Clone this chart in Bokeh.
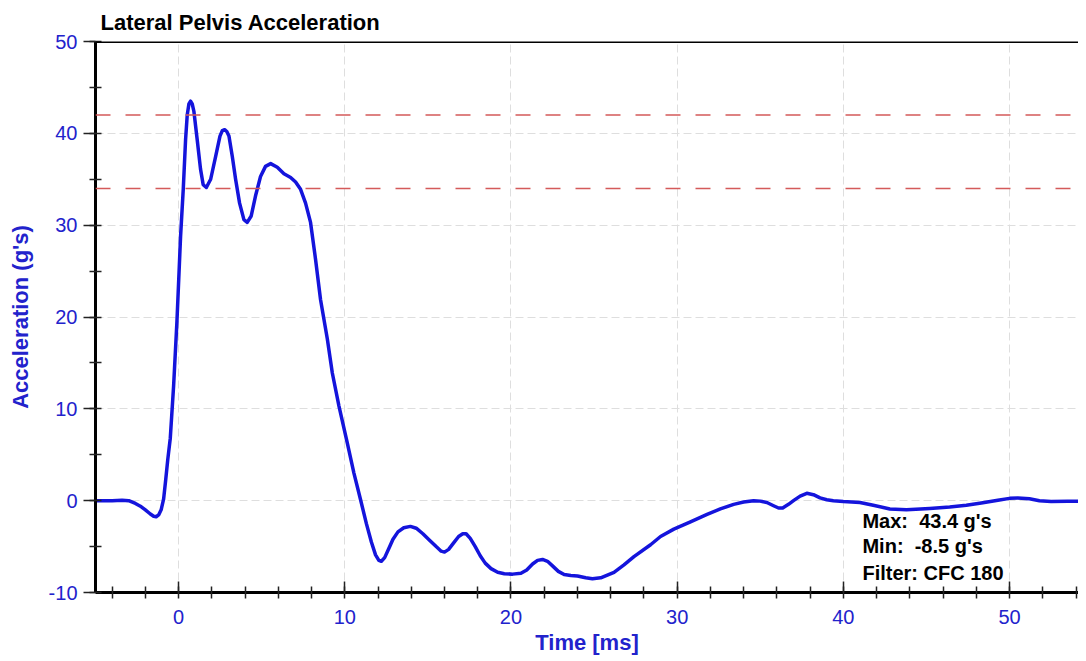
from bokeh.plotting import figure
from bokeh.models import Span, Label, SingleIntervalTicker, Range1d, PrintfTickFormatter
from bokeh.embed import file_html
from bokeh.resources import INLINE

# ---- data ----
time_ms = [-5.0, -4.0, -3.4, -3.0, -2.6, -2.3, -2.0, -1.7, -1.5, -1.35, -1.2,
           -1.05, -0.9, -0.78, -0.65, -0.5, -0.3, -0.1, 0.12, 0.28, 0.42, 0.52,
           0.62, 0.72, 0.82, 0.92, 1.12, 1.32, 1.48, 1.67, 1.93, 2.23, 2.49,
           2.63, 2.77, 2.9, 3.03, 3.23, 3.43, 3.67, 3.93, 4.13, 4.37, 4.63,
           4.93, 5.23, 5.54, 5.94, 6.34, 6.74, 7.04, 7.34, 7.64, 7.94, 8.24,
           8.54, 8.95, 9.25, 9.65, 10.15, 10.55, 10.95, 11.3, 11.6, 11.85,
           12.05, 12.2, 12.4, 12.65, 12.9, 13.2, 13.55, 13.95, 14.3, 14.7, 15.1,
           15.5, 15.8, 16.0, 16.25, 16.55, 16.85, 17.1, 17.3, 17.55, 17.85,
           18.15, 18.45, 18.8, 19.2, 19.6, 20.1, 20.6, 20.95, 21.3, 21.6, 21.9,
           22.2, 22.5, 22.85, 23.2, 23.6, 24.0, 24.5, 24.9, 25.4, 25.8, 26.2,
           26.8, 27.4, 28.4, 29.0, 29.8, 30.8, 31.8, 32.6, 33.4, 34.0, 34.6,
           35.0, 35.4, 35.8, 36.1, 36.35, 36.7, 37.0, 37.4, 37.8, 38.2, 38.6,
           39.0, 39.4, 40.0, 41.0, 41.8, 42.8, 43.8, 45.2, 46.4, 47.4, 48.3,
           49.3, 50.0, 50.5, 51.2, 51.8, 52.5, 53.5, 54.6]
accel_g = [0.0, 0.0, 0.05, 0.0, -0.3, -0.6, -1.0, -1.45, -1.7, -1.75, -1.55,
           -1.0, 0.2, 2.2, 4.5, 6.8, 12.5, 19.5, 28.8, 33.9, 39.3, 42.0,
           43.2, 43.5, 43.2, 42.4, 39.3, 36.1, 34.4, 34.1, 35.0, 37.5, 39.7,
           40.3, 40.4, 40.2, 39.7, 37.5, 35.0, 32.4, 30.6, 30.3, 31.0, 33.2,
           35.3, 36.4, 36.7, 36.3, 35.6, 35.2, 34.7, 33.9, 32.4, 30.3, 26.3,
           21.9, 17.6, 13.9, 10.3, 6.3, 3.0, 0.1, -2.5, -4.5, -5.9,
           -6.5, -6.6, -6.2, -5.2, -4.2, -3.4, -2.95, -2.8, -3.0, -3.6, -4.3,
           -5.0, -5.5, -5.6, -5.3, -4.6, -3.9, -3.6, -3.6, -4.1, -5.0,
           -6.0, -6.8, -7.4, -7.8, -7.95, -8.0, -7.9, -7.55, -6.9, -6.5, -6.4,
           -6.6, -7.1, -7.7, -8.05, -8.15, -8.2, -8.4, -8.5, -8.4, -8.1, -7.8,
           -7.0, -6.1, -4.8, -3.9, -3.1, -2.3, -1.5, -0.9, -0.4, -0.15, 0.0,
           -0.05, -0.2, -0.55, -0.8, -0.8, -0.4, 0.0, 0.5, 0.8, 0.65, 0.3,
           0.1, 0.0, -0.1, -0.2, -0.5, -0.9, -1.0, -0.85, -0.7, -0.5, -0.25,
           0.05, 0.25, 0.3, 0.2, 0.0, -0.1, -0.05, -0.05]
limit_lines = [42, 34]
stats_text = ["Max:\u00a0\u00a043.4 g's", "Min:\u00a0\u00a0-8.5 g's", "Filter: CFC 180"]
stats_y = [-2.18, -4.9, -7.84]
stats_x = 41.15

FONT = "Liberation Sans"
BLUE_TXT = "#2222cc"
LINE_BLUE = "#1414dc"

p = figure(frame_width=983, frame_height=551,
           x_range=Range1d(-5, 54.15), y_range=Range1d(-10, 50),
           output_backend="svg", toolbar_location=None,
           min_border_left=0, min_border_right=0, min_border_top=0,
           min_border_bottom=0, title="Lateral Pelvis Acceleration")
p.margin = (0, 0, 0, 4)
p.outline_line_color = None
p.background_fill_color = "white"
p.border_fill_color = "white"

p.title.text_font = FONT
p.title.text_font_size = "22px"
p.title.text_font_style = "bold"
p.title.text_color = "black"
p.title.align = "left"
p.title.offset = 5
p.title.standoff = 14

xt = SingleIntervalTicker(interval=10, num_minor_ticks=5)
yt = SingleIntervalTicker(interval=10, num_minor_ticks=2)
p.xaxis.ticker = xt
p.yaxis.ticker = yt
p.xgrid.ticker = xt
p.ygrid.ticker = yt
p.xaxis.formatter = PrintfTickFormatter(format="%d")
p.yaxis.formatter = PrintfTickFormatter(format="%d")

for ax in (p.xaxis[0], p.yaxis[0]):
    ax.axis_line_width = 3
    ax.axis_line_color = "black"
    ax.major_tick_line_color = "#222222"
    ax.minor_tick_line_color = "#222222"
    ax.major_tick_line_width = 1.5
    ax.minor_tick_line_width = 1.5
    ax.major_label_text_font = FONT
    ax.major_label_text_font_size = "20px"
    ax.major_label_text_color = BLUE_TXT
    ax.axis_label_text_font = FONT
    ax.axis_label_text_font_size = "22px"
    ax.axis_label_text_font_style = "bold"
    ax.axis_label_text_color = BLUE_TXT
    ax.minor_tick_in = 6
    ax.minor_tick_out = 6

p.xaxis.axis_label = "Time [ms]"
p.xaxis.major_tick_in = 11
p.xaxis.major_tick_out = 0
p.xaxis.major_label_standoff = 11
p.xaxis.axis_label_standoff = 3

p.yaxis.axis_label = "Acceleration (g's)"
p.yaxis.major_tick_in = 0
p.yaxis.major_tick_out = 12
p.yaxis.major_label_standoff = 6
p.yaxis.axis_label_standoff = 13

for g in (p.xgrid[0], p.ygrid[0]):
    g.grid_line_color = "#dedede"
    g.grid_line_dash = "8 4"
    g.grid_line_width = 1

# top border
p.add_layout(Span(location=50, dimension="width", line_color="black", line_width=3))

for lv in limit_lines:
    p.add_layout(Span(location=lv, dimension="width", line_color="#d45a5a",
                      line_width=1.5, line_dash="15 15"))

p.line(time_ms, accel_g, line_color=LINE_BLUE, line_width=3.5, line_join="round")

for txt, yy in zip(stats_text, stats_y):
    p.add_layout(Label(x=stats_x, y=yy, text=txt, text_font=FONT,
                       text_font_size="20px", text_font_style="bold",
                       text_color="black", text_baseline="alphabetic"))

open("out.html", "w").write(file_html(p, INLINE))
